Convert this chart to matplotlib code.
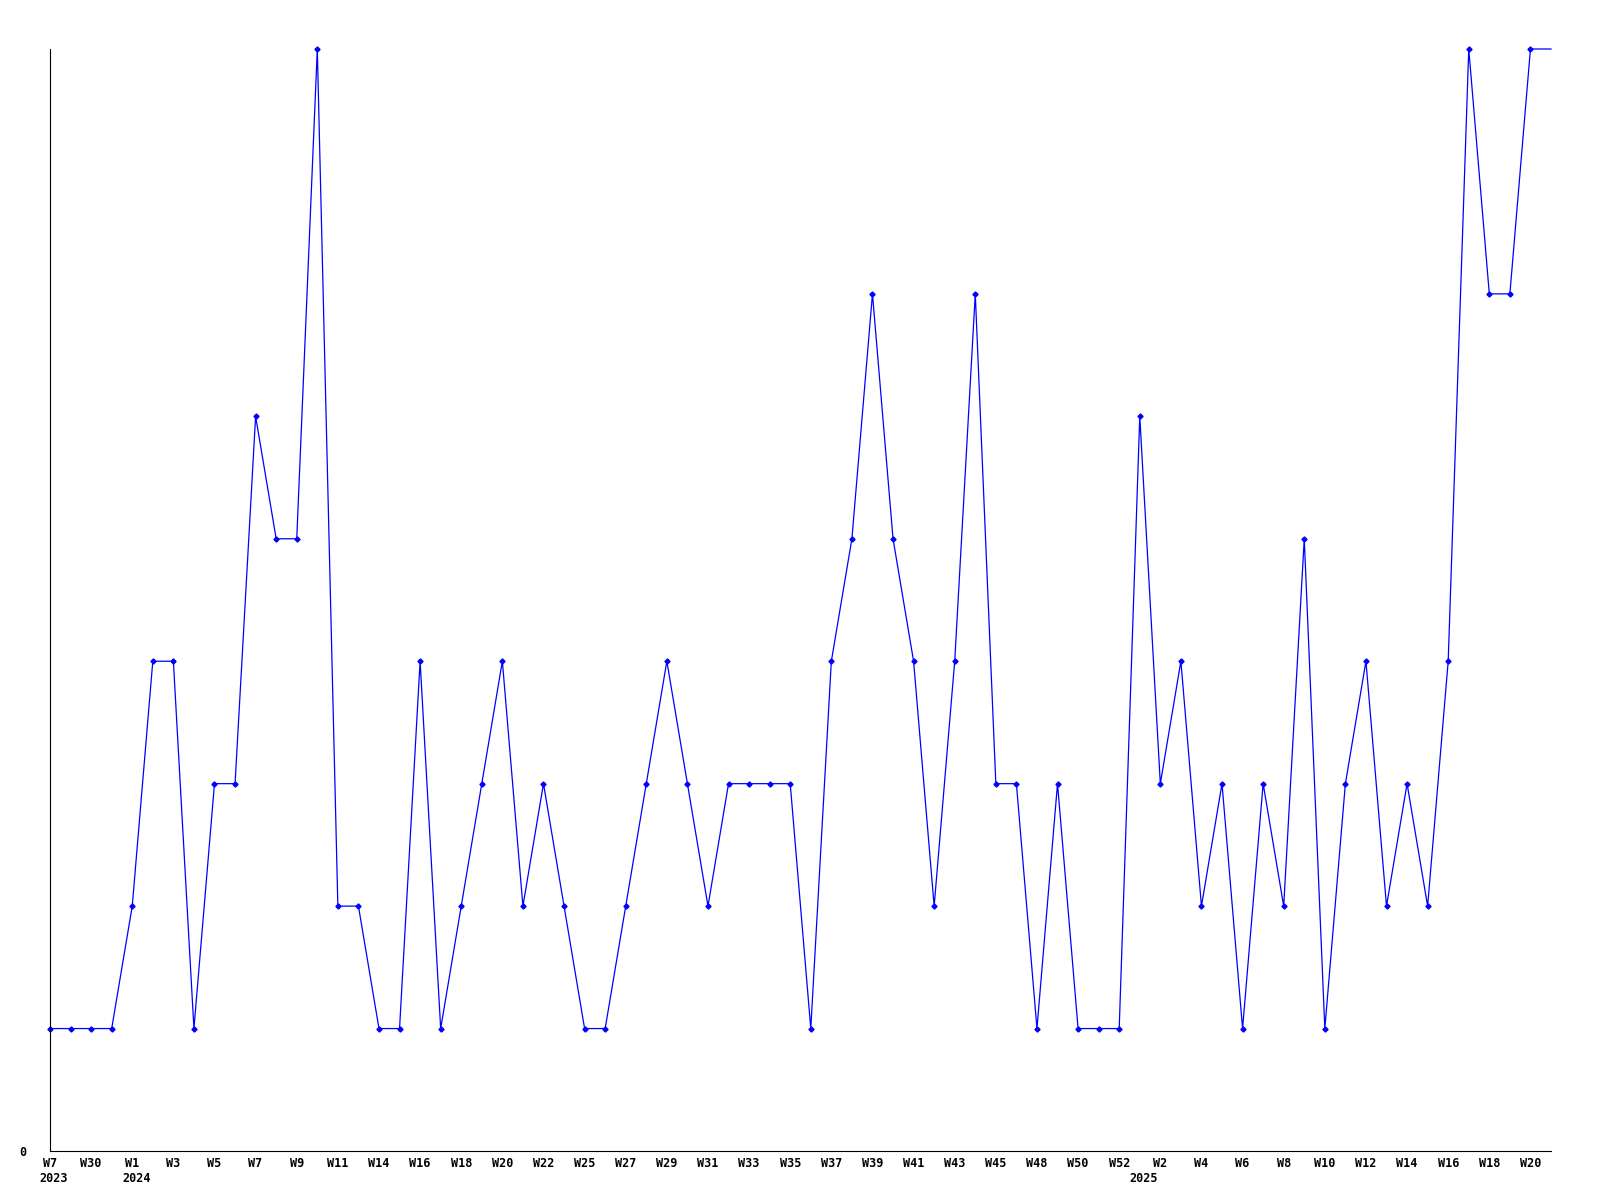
import matplotlib
matplotlib.use("Agg")
import matplotlib.pyplot as plt
import matplotlib.transforms as mtransforms

# weekly counts, one per category (last point runs to the right edge)
values = [1, 1, 1, 1, 2, 4, 4, 1, 3, 3,
          6, 5, 5, 9, 2, 2, 1, 1, 4, 1,
          2, 3, 4, 2, 3, 2, 1, 1, 2, 3,
          4, 3, 2, 3, 3, 3, 3, 1, 4, 5,
          7, 5, 4, 2, 4, 7, 3, 3, 1, 3,
          1, 1, 1, 6, 3, 4, 2, 3, 1, 3,
          2, 5, 1, 3, 4, 2, 3, 2, 4, 9,
          7, 7, 9, 9]

# labels shown on every other category
tick_labels = ["W7", "W30", "W1", "W3", "W5", "W7", "W9", "W11", "W14", "W16",
               "W18", "W20", "W22", "W25", "W27", "W29", "W31", "W33", "W35", "W37",
               "W39", "W41", "W43", "W45", "W48", "W50", "W52", "W2", "W4", "W6",
               "W8", "W10", "W12", "W14", "W16", "W18", "W20"]

# year label and the category where that year starts
years = ["2023", "2024", "2025"]
year_start = [0, 4, 53]

line_color = "#0000ff"
font = dict(family="DejaVu Sans Mono", fontweight="bold", fontsize=8.5)

fig = plt.figure(figsize=(16, 12), dpi=100)
ax = fig.add_axes([50 / 1600, 1 - 1151 / 1200, 1501 / 1600, (1151 - 49) / 1200])

x = list(range(len(values)))
ax.plot(x, values, color=line_color, lw=0.9, marker="D", markersize=2.6,
        markevery=list(range(len(values) - 1)), clip_on=False)

ax.set_xlim(0, len(values) - 1)
ax.set_ylim(0, 9)

for side in ("top", "right"):
    ax.spines[side].set_visible(False)
for side in ("left", "bottom"):
    ax.spines[side].set_linewidth(0.8)
    ax.spines[side].set_color("black")

ax.set_xticks(range(0, 2 * len(tick_labels), 2))
ax.set_xticklabels(tick_labels, **font)
ax.set_yticks([0])
ax.set_yticklabels(["0"], **font)
ax.tick_params(axis="x", length=0, pad=4)
ax.tick_params(axis="y", length=0, pad=17)

trans = mtransforms.blended_transform_factory(ax.transData, fig.transFigure)
for label, start in zip(years, year_start):
    ax.text(start - 0.5, 1 - 1172 / 1200, label, transform=trans,
            ha="left", va="top", **font)

fig.savefig("out.png", dpi=100, facecolor="white")
